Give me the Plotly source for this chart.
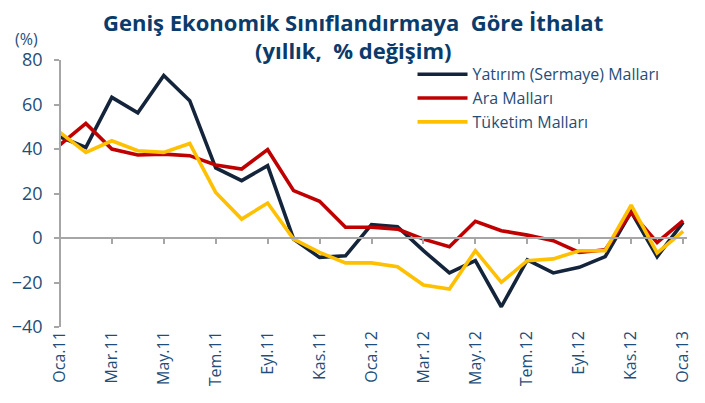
import plotly.graph_objects as go

months = ["Oca.11","Şub.11","Mar.11","Nis.11","May.11","Haz.11","Tem.11","Ağu.11","Eyl.11","Eki.11","Kas.11","Ara.11",
          "Oca.12","Şub.12","Mar.12","Nis.12","May.12","Haz.12","Tem.12","Ağu.12","Eyl.12","Eki.12","Kas.12","Ara.12",
          "Oca.13"]
yatirim = [45.5, 40.7, 63.2, 56.3, 73.0, 61.7, 31.5, 25.8, 32.5, -0.5, -8.7, -8.0,
           6.0, 5.1, -5.7, -15.7, -10.2, -30.9, -9.8, -15.7, -13.2, -8.4, 11.8, -8.4, 7.0]
ara = [41.9, 51.5, 40.0, 37.3, 37.7, 37.0, 32.8, 31.0, 39.7, 21.3, 16.5, 4.8,
       4.8, 4.0, -0.5, -3.9, 7.5, 3.3, 1.3, -1.2, -6.5, -5.3, 11.5, -2.0, 7.8]
tuketim = [47.5, 38.5, 43.7, 39.2, 38.5, 42.5, 20.5, 8.5, 15.7, -0.5, -6.5, -11.2,
           -11.2, -12.9, -21.1, -22.9, -5.7, -19.9, -10.2, -9.4, -5.7, -5.7, 14.8, -6.7, 3.0]
series_names = ["Yatırım (Sermaye) Malları", "Ara Malları", "Tüketim Malları"]
series_colors = ["#14243B", "#C00000", "#FFC000"]
y_ticks = [-40, -20, 0, 20, 40, 60, 80]
title_lines = ["Geniş Ekonomik Sınıflandırmaya  Göre İthalat", "(yıllık,  % değişim)"]

x = list(range(len(months)))
tick_idx = x[::2]
tick_text = months[::2]

TXT = "#1F4E79"
GRID = "#A6A6A6"
FONT = "Open Sans"

fig = go.Figure()
for name, vals, col in zip(series_names, [yatirim, ara, tuketim], series_colors):
    fig.add_trace(go.Scatter(x=x, y=vals, name=name, mode="lines",
                             line=dict(color=col, width=3.6)))

pad = 0.15
xr = [-pad, len(months) - 1 + pad]
fig.update_layout(
    width=705, height=403,
    margin=dict(l=49, r=17, t=60, b=76),
    plot_bgcolor="white", paper_bgcolor="white",
    font=dict(family=FONT, color=TXT),
    showlegend=True,
    legend=dict(x=0.565, y=1.01, xanchor="left", yanchor="top",
                font=dict(family=FONT, size=16, color=TXT),
                bgcolor="rgba(0,0,0,0)", itemwidth=50, tracegroupgap=0),
    xaxis=dict(range=xr, tickmode="array", tickvals=tick_idx, ticktext=tick_text,
               tickangle=-90, showline=False, showgrid=False, zeroline=False,
               ticks="", tickfont=dict(family=FONT, size=16, color=TXT)),
    xaxis2=dict(range=xr, overlaying="x", anchor="free", position=1/3,
                tickmode="array", tickvals=tick_idx, showticklabels=False,
                showline=True, linecolor=GRID, linewidth=1.5,
                ticks="outside", ticklen=5, tickcolor=GRID, tickwidth=1.5,
                showgrid=False, zeroline=False),
    yaxis=dict(range=[-40, 80], tickmode="array", tickvals=y_ticks,
               anchor="free", position=pad / (len(months) - 1 + 2 * pad),
               showline=True, linecolor=GRID, linewidth=1.5,
               ticks="outside", ticklen=5, tickcolor=GRID, tickwidth=1.5,
               ticklabelstandoff=8,
               showgrid=False, zeroline=False,
               tickfont=dict(family=FONT, size=18, color=TXT)),
)
# invisible trace to activate xaxis2
fig.add_trace(go.Scatter(x=[x[0]], y=[None], xaxis="x2", showlegend=False, hoverinfo="skip"))

for txt, yy in zip(title_lines, [1.142, 1.037]):
    fig.add_annotation(text="<b>" + txt + "</b>", xref="paper", yref="paper",
                       x=(350 - 49) / 639, y=yy, xanchor="center", yanchor="middle",
                       showarrow=False, font=dict(family=FONT, size=22, color="#0B3B6B"))

fig.add_annotation(text="(%)", xref="paper", yref="paper", x=-0.047, y=1.08,
                   xanchor="center", yanchor="middle", showarrow=False,
                   font=dict(family=FONT, size=16, color=TXT))

fig.write_html("out.html")
